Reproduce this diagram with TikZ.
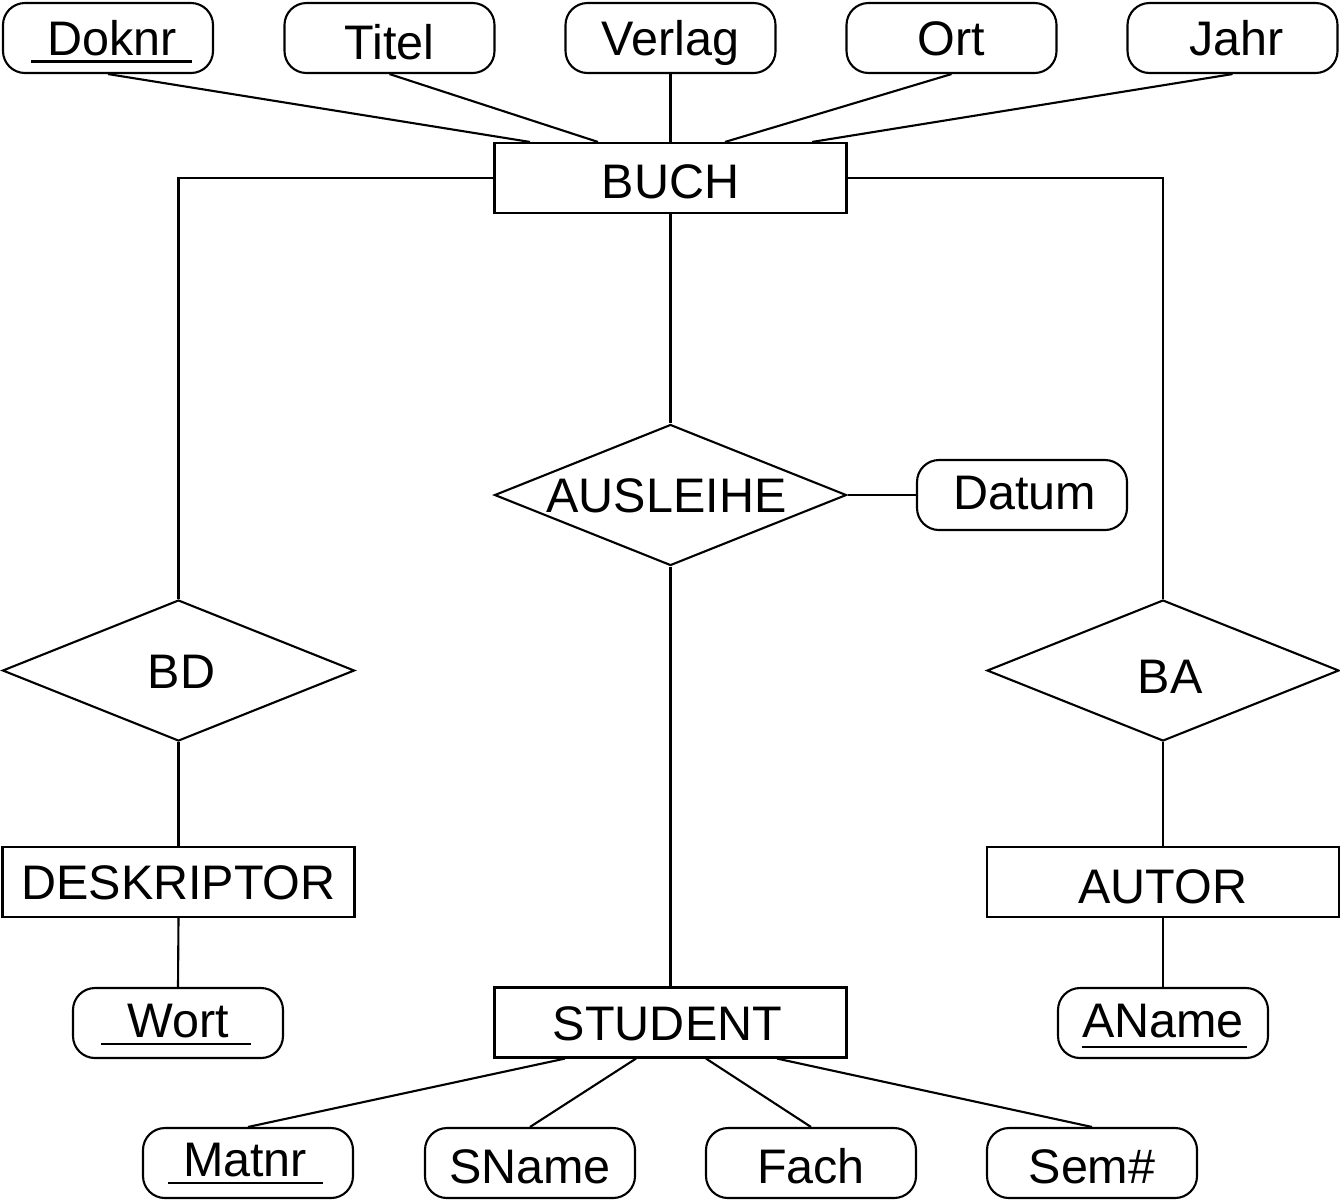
\documentclass[tikz,border=0pt]{standalone}
\usepackage{fontspec}
\setmainfont{Liberation Sans}
\usetikzlibrary{shapes.geometric}
\begin{document}
\begin{tikzpicture}[
  line width=0.6pt,
  every node/.style={font=\fontsize{13.8}{16}\selectfont, inner sep=0pt,
    text height=0.35cm, text depth=0pt},
  attr/.style={draw, rounded corners=2.2mm, minimum width=2.1cm, minimum height=0.7cm},
  entity/.style={draw, minimum width=3.52cm, minimum height=0.7cm},
  rel/.style={draw, diamond, minimum width=3.52cm, minimum height=1.41cm},
  keyline/.style={line width=0.6pt}
]
\useasboundingbox (0,0) rectangle (13.4,-12);

% attributes of BUCH
\node[attr] (doknr)  at (1.08,-0.38)  {\hspace{0.08cm}Doknr};
\node[attr] (titel)  at (3.895,-0.38) {\raisebox{-0.04cm}{Titel}};
\node[attr] (verlag) at (6.705,-0.38) {Verlag};
\node[attr] (ort)    at (9.515,-0.38) {Ort};
\node[attr] (jahr)   at (12.325,-0.38) {\hspace{0.08cm}Jahr};

% entities
\node[entity] (buch)       at (6.705,-1.78)  {\raisebox{-0.025cm}{BUCH}};
\node[entity] (deskriptor) at (1.785,-8.82)  {DESKRIPTOR};
\node[entity] (autor)      at (11.63,-8.82)  {\raisebox{-0.04cm}{AUTOR}};
\node[entity] (student)    at (6.705,-10.225) {\hspace{-0.06cm}STUDENT};

% relationships (label boxes kept zero-wide so the diamond size is fixed)
\node[rel] (ausleihe) at (6.705,-4.95)  {\makebox[0pt]{\hspace{-0.08cm}AUSLEIHE}};
\node[rel] (bd)       at (1.785,-6.705) {\makebox[0pt]{\hspace{0.06cm}BD}};
\node[rel] (ba)       at (11.63,-6.705) {\makebox[0pt]{\hspace{0.14cm}\raisebox{-0.05cm}{BA}}};

% further attributes
\node[attr] (datum) at (10.22,-4.95)   {\raisebox{0.03cm}{\hspace{0.05cm}Datum}};
\node[attr] (wort)  at (1.78,-10.23)   {\raisebox{0.03cm}{Wort}};
\node[attr] (aname) at (11.63,-10.23)  {\raisebox{0.03cm}{AName}};
\node[attr] (matnr) at (2.48,-11.63)   {\raisebox{0.04cm}{\hspace{-0.06cm}Matnr}};
\node[attr] (sname) at (5.30,-11.63)   {\raisebox{-0.03cm}{SName}};
\node[attr] (fach)  at (8.11,-11.63)   {\raisebox{-0.03cm}{Fach}};
\node[attr] (sem)   at (10.92,-11.63)  {\raisebox{-0.03cm}{Sem\#}};

% key attributes are underlined
\draw[keyline] ([shift={(-0.77,-0.235)}]doknr.center) -- ([shift={(0.84,-0.235)}]doknr.center);
\draw[keyline] ([shift={(-0.77,-0.21)}]wort.center)   -- ([shift={(0.73,-0.21)}]wort.center);
\draw[keyline] ([shift={(-0.80,-0.20)}]matnr.center)  -- ([shift={(0.75,-0.20)}]matnr.center);
\draw[keyline] ([shift={(-0.81,-0.24)}]aname.center)  -- ([shift={(0.84,-0.24)}]aname.center);

% BUCH and its attributes
\draw (doknr.south)  -- ([xshift=-1.405cm]buch.north);
\draw (titel.south)  -- ([xshift=-0.725cm]buch.north);
\draw (verlag.south) -- (buch.north);
\draw (ort.south)    -- ([xshift=0.545cm]buch.north);
\draw (jahr.south)   -- ([xshift=1.415cm]buch.north);

% relationship links
\draw (buch.west) -| (bd.north);
\draw (buch.east) -| (ba.north);
\draw (buch.south) -- (ausleihe.north);
\draw (ausleihe.east) -- (datum.west);
\draw (ausleihe.south) -- (student.north);
\draw (bd.south) -- (deskriptor.north);
\draw (deskriptor.south) -- (wort.north);
\draw (ba.south) -- (autor.north);
\draw (autor.south) -- (aname.north);

% STUDENT and its attributes
\draw ([xshift=-1.055cm]student.south) -- (matnr.north);
\draw ([xshift=-0.345cm]student.south) -- (sname.north);
\draw ([xshift=0.355cm]student.south)  -- (fach.north);
\draw ([xshift=1.065cm]student.south)  -- (sem.north);
\end{tikzpicture}
\end{document}
